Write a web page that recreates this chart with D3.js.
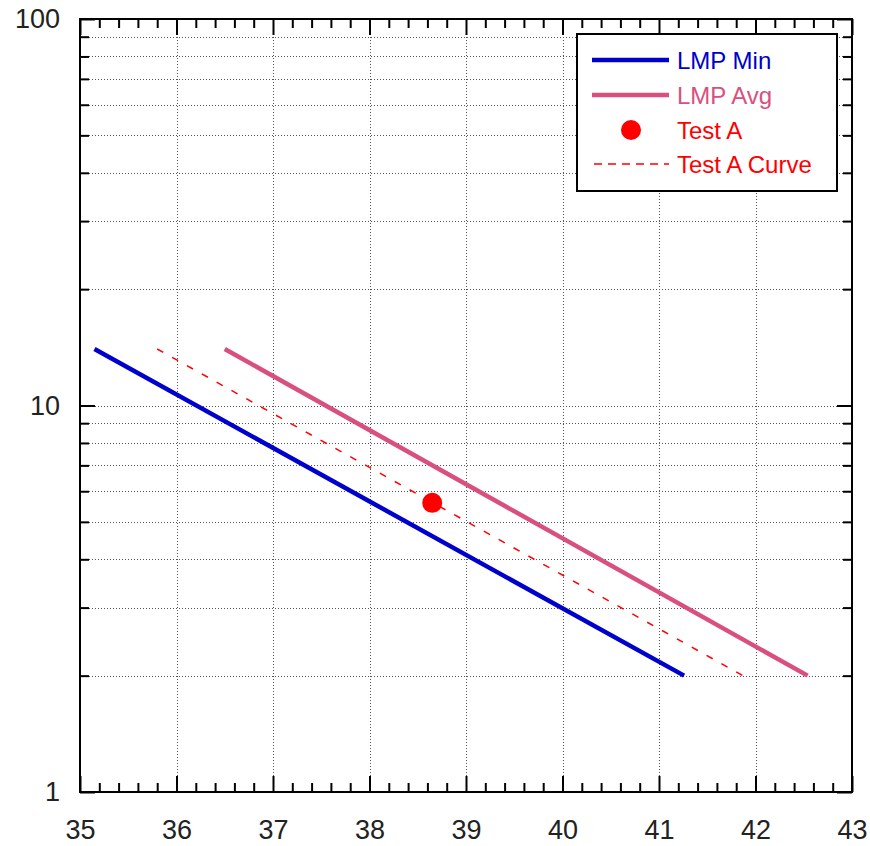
<!DOCTYPE html>
<meta charset="utf-8">
<style>
  body { margin: 0; background: #fff; }
  svg text { font-family: "Liberation Sans", Arial, sans-serif; }
</style>
<body>
<div id="chart"></div>
<script src="https://d3js.org/d3.v7.min.js"></script>
<script>
// x values of line ends, y values at those ends
var lmpMinX = [35.15, 41.26], lmpMinY = [14.0, 2.0];
var lmpAvgX = [36.5, 42.54], lmpAvgY = [14.0, 2.0];
var curveX = [35.8, 41.87], curveY = [14.0, 2.0];
var testAX = [38.65], testAY = [5.6];

var xTicks = [35, 36, 37, 38, 39, 40, 41, 42, 43];
var yTicks = [1, 10, 100];
var legendNames = ["LMP Min", "LMP Avg", "Test A", "Test A Curve"];

var W = 870, H = 846;
var pL = 80, pR = 852, pT = 19, pB = 792;

var x = d3.scaleLinear().domain([35, 43]).range([pL, pR]);
var y = d3.scaleLog().domain([1, 100]).range([pB, pT]);

var svg = d3.select("#chart").append("svg")
  .attr("width", W).attr("height", H);

// minor tick values
var xMinor = d3.range(35, 43.001, 0.2).filter(function(v) {
  return Math.abs(v - Math.round(v)) > 0.01;
});
var yMinor = [];
[1, 10].forEach(function(dec) {
  for (var k = 2; k <= 9; k++) yMinor.push(k * dec);
});

// grid
var grid = svg.append("g").attr("stroke", "#555").attr("stroke-width", 1)
  .attr("stroke-dasharray", "1,2").attr("fill", "none");
grid.selectAll(".gx").data(xTicks.slice(1, -1)).enter().append("line")
  .attr("x1", function(d) { return Math.round(x(d)) + 0.5; })
  .attr("x2", function(d) { return Math.round(x(d)) + 0.5; })
  .attr("y1", pT).attr("y2", pB);
grid.selectAll(".gy").data(yMinor.concat([10])).enter().append("line")
  .attr("x1", pL).attr("x2", pR)
  .attr("y1", function(d) { return Math.round(y(d)) + 0.5; })
  .attr("y2", function(d) { return Math.round(y(d)) + 0.5; });

function styleAxis(g) {
  g.select(".domain").remove();
  g.selectAll("line").attr("stroke", "#000").attr("stroke-width", 2);
  g.selectAll("text").attr("fill", "#222").style("font-size", "27px");
}

// axes: major ticks with labels, minor ticks without
svg.append("g").attr("transform", "translate(0," + pB + ")")
  .call(d3.axisBottom(x).tickValues(xTicks).tickSize(-16).tickPadding(28)
    .tickFormat(d3.format("d")))
  .call(styleAxis);
svg.append("g").attr("transform", "translate(0," + pB + ")")
  .call(d3.axisBottom(x).tickValues(xMinor).tickSize(-9).tickFormat(""))
  .call(styleAxis);
svg.append("g").attr("transform", "translate(0," + pT + ")")
  .call(d3.axisTop(x).tickValues(xTicks).tickSize(-16).tickFormat(""))
  .call(styleAxis);
svg.append("g").attr("transform", "translate(0," + pT + ")")
  .call(d3.axisTop(x).tickValues(xMinor).tickSize(-9).tickFormat(""))
  .call(styleAxis);

svg.append("g").attr("transform", "translate(" + pL + ",0)")
  .call(d3.axisLeft(y).tickValues(yTicks).tickSize(-15).tickPadding(20)
    .tickFormat(d3.format("d")))
  .call(styleAxis);
svg.append("g").attr("transform", "translate(" + pL + ",0)")
  .call(d3.axisLeft(y).tickValues(yMinor).tickSize(-9).tickFormat(""))
  .call(styleAxis);
svg.append("g").attr("transform", "translate(" + pR + ",0)")
  .call(d3.axisRight(y).tickValues(yTicks).tickSize(-15).tickFormat(""))
  .call(styleAxis);
svg.append("g").attr("transform", "translate(" + pR + ",0)")
  .call(d3.axisRight(y).tickValues(yMinor).tickSize(-9).tickFormat(""))
  .call(styleAxis);

// frame
svg.append("rect")
  .attr("x", pL).attr("y", pT)
  .attr("width", pR - pL).attr("height", pB - pT)
  .attr("fill", "none").attr("stroke", "#000").attr("stroke-width", 2);

// series
var line = d3.line()
  .x(function(d) { return x(d[0]); })
  .y(function(d) { return y(d[1]); });

function pts(xs, ys) { return xs.map(function(v, i) { return [v, ys[i]]; }); }

svg.append("path").datum(pts(curveX, curveY))
  .attr("d", line).attr("fill", "none")
  .attr("stroke", "#ff0000").attr("stroke-width", 1.5)
  .attr("stroke-dasharray", "7,10");
svg.append("path").datum(pts(lmpMinX, lmpMinY))
  .attr("d", line).attr("fill", "none")
  .attr("stroke", "#0000cc").attr("stroke-width", 4.5);
svg.append("path").datum(pts(lmpAvgX, lmpAvgY))
  .attr("d", line).attr("fill", "none")
  .attr("stroke", "#d9507f").attr("stroke-width", 4.5);
svg.selectAll(".pt").data(pts(testAX, testAY)).enter().append("circle")
  .attr("cx", function(d) { return x(d[0]); })
  .attr("cy", function(d) { return y(d[1]); })
  .attr("r", 10).attr("fill", "#ff0000");

// legend
var lg = svg.append("g");
lg.append("rect").attr("x", 577).attr("y", 34).attr("width", 260).attr("height", 157)
  .attr("fill", "#fff").attr("stroke", "#000").attr("stroke-width", 2);
var rowsY = [60, 95, 130, 164];
var colors = ["#0000cc", "#d9507f", "#ff0000", "#ff0000"];
lg.append("line").attr("x1", 592).attr("x2", 669).attr("y1", rowsY[0]).attr("y2", rowsY[0])
  .attr("stroke", colors[0]).attr("stroke-width", 4.5);
lg.append("line").attr("x1", 592).attr("x2", 669).attr("y1", rowsY[1]).attr("y2", rowsY[1])
  .attr("stroke", colors[1]).attr("stroke-width", 4.5);
lg.append("circle").attr("cx", 631).attr("cy", rowsY[2]).attr("r", 10).attr("fill", colors[2]);
lg.append("line").attr("x1", 594).attr("x2", 669).attr("y1", rowsY[3]).attr("y2", rowsY[3])
  .attr("stroke", colors[3]).attr("stroke-width", 1.5).attr("stroke-dasharray", "8,6");
lg.selectAll(".lt").data(legendNames).enter().append("text")
  .attr("x", 677)
  .attr("y", function(d, i) { return rowsY[i] + 9; })
  .attr("fill", function(d, i) { return colors[i]; })
  .style("font-size", "24px")
  .text(function(d) { return d; });
</script>
</body>
